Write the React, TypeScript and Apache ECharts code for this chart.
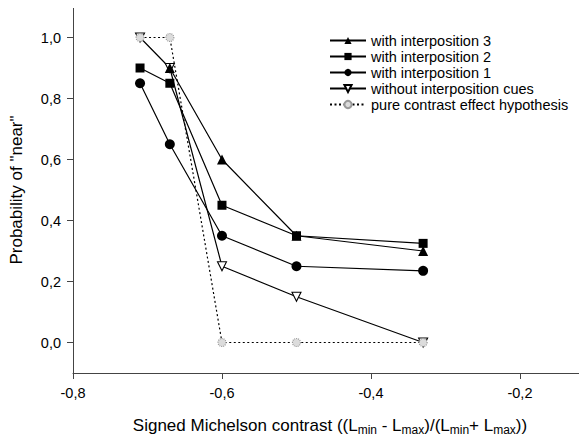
import React, { useEffect, useRef } from "react";
import * as echarts from "echarts";

const xTicks = [-0.8, -0.6, -0.4, -0.2];
const yTicks = [0, 0.2, 0.4, 0.6, 0.8, 1.0];

const interp3X = [-0.67, -0.6, -0.5, -0.33];
const interp3Y = [0.9, 0.6, 0.35, 0.3];

const interp2X = [-0.71, -0.67, -0.6, -0.5, -0.33];
const interp2Y = [0.9, 0.85, 0.45, 0.35, 0.325];

const interp1X = [-0.71, -0.67, -0.6, -0.5, -0.33];
const interp1Y = [0.85, 0.65, 0.35, 0.25, 0.235];

const noCueX = [-0.71, -0.67, -0.6, -0.5, -0.33];
const noCueY = [1.0, 0.9, 0.25, 0.15, 0.0];

const pureX = [-0.71, -0.67, -0.6, -0.5, -0.33];
const pureY = [1.0, 1.0, 0.0, 0.0, 0.0];

const zip = (xs: number[], ys: number[]) => xs.map((x, i) => [x, ys[i]]);
const fmt = (v: number) => v.toFixed(1).replace(".", ",");

const FONT = "Liberation Sans, Arial, sans-serif";

export default function App() {
  const ref = useRef<HTMLDivElement>(null);
  useEffect(() => {
    if (!ref.current) return;
    const chart = echarts.init(ref.current, null, { renderer: "svg" });
    const axisColor = "#444";
    const lineBase = { color: "#000", width: 1.2 };
    chart.setOption({
      animation: false,
      backgroundColor: "#fff",
      textStyle: { fontFamily: FONT },
      grid: { left: 71, top: 7, right: 0, bottom: 69 },
      legend: {
        orient: "vertical",
        left: 324,
        top: 28,
        itemWidth: 36,
        itemHeight: 9,
        itemGap: 1,
        textStyle: { fontFamily: FONT, fontSize: 14.5, color: "#000" },
        data: [
          "with interposition 3",
          "with interposition 2",
          "with interposition 1",
          "without interposition cues",
          "pure contrast effect hypothesis",
        ],
      },
      xAxis: [
        {
          type: "value",
          min: -0.8,
          max: -0.11,
          position: "bottom",
          axisLine: { show: true, onZero: false, lineStyle: { color: axisColor, width: 1 } },
          axisTick: { show: true, length: 6, customValues: xTicks, lineStyle: { color: axisColor } },
          axisLabel: {
            customValues: xTicks,
            formatter: fmt,
            color: "#000",
            fontSize: 14.5,
            margin: 12,
            fontFamily: FONT,
          },
          splitLine: { show: false },
          name: "{n|Signed Michelson contrast ((L}{s|min}{n| - L}{s|max}{n|)/(L}{s|min}{n|+ L}{s|max}{n|))}",
          nameLocation: "middle",
          nameGap: 42,
          nameTextStyle: {
            rich: {
              n: { fontSize: 17, fontFamily: FONT, color: "#000" },
              s: { fontSize: 12, fontFamily: FONT, color: "#000", verticalAlign: "bottom", padding: [9, 0, 0, 0] },
            },
          },
        },
        {
          type: "value",
          min: -0.8,
          max: -0.11,
          position: "top",
          axisLine: { show: true, onZero: false, lineStyle: { color: "#777", width: 1 } },
          axisTick: { show: false },
          axisLabel: { show: false },
          splitLine: { show: false },
        },
      ],
      yAxis: {
        type: "value",
        min: -0.1,
        max: 1.1,
        axisLine: { show: true, onZero: false, lineStyle: { color: axisColor, width: 1 } },
        axisTick: { show: true, length: 6, customValues: yTicks, lineStyle: { color: axisColor } },
        axisLabel: {
          customValues: yTicks,
          formatter: fmt,
          color: "#000",
          fontSize: 14.5,
          margin: 12,
          fontFamily: FONT,
        },
        splitLine: { show: false },
        name: 'Probability of "near"',
        nameLocation: "middle",
        nameGap: 48,
        nameTextStyle: { fontSize: 17, fontFamily: FONT, color: "#000" },
      },
      series: [
        {
          name: "without interposition cues",
          type: "line",
          data: zip(noCueX, noCueY),
          symbol: "triangle",
          symbolRotate: 180,
          symbolSize: 9,
          itemStyle: { color: "#fff", borderColor: "#000", borderWidth: 1.1 },
          lineStyle: lineBase,
          z: 2,
        },
        {
          name: "with interposition 1",
          type: "line",
          data: zip(interp1X, interp1Y),
          symbol: "circle",
          symbolSize: 10,
          itemStyle: { color: "#000" },
          lineStyle: lineBase,
          z: 3,
        },
        {
          name: "with interposition 2",
          type: "line",
          data: zip(interp2X, interp2Y),
          symbol: "rect",
          symbolSize: 9,
          itemStyle: { color: "#000" },
          lineStyle: lineBase,
          z: 4,
        },
        {
          name: "with interposition 3",
          type: "line",
          data: zip(interp3X, interp3Y),
          symbol: "triangle",
          symbolSize: 10,
          itemStyle: { color: "#000" },
          lineStyle: lineBase,
          z: 5,
        },
        {
          name: "pure contrast effect hypothesis",
          type: "line",
          data: zip(pureX, pureY),
          symbol: "circle",
          symbolSize: 8,
          itemStyle: { color: "#dcdcdc", borderColor: "#9a9a9a", borderWidth: 1.2, borderType: [1, 1] },
          lineStyle: { color: "#000", width: 1.2, type: [2, 2.5] },
          z: 6,
        },
      ],
    });
    return () => chart.dispose();
  }, []);
  return <div ref={ref} style={{ width: 587, height: 442, margin: -8 }} />;
}
